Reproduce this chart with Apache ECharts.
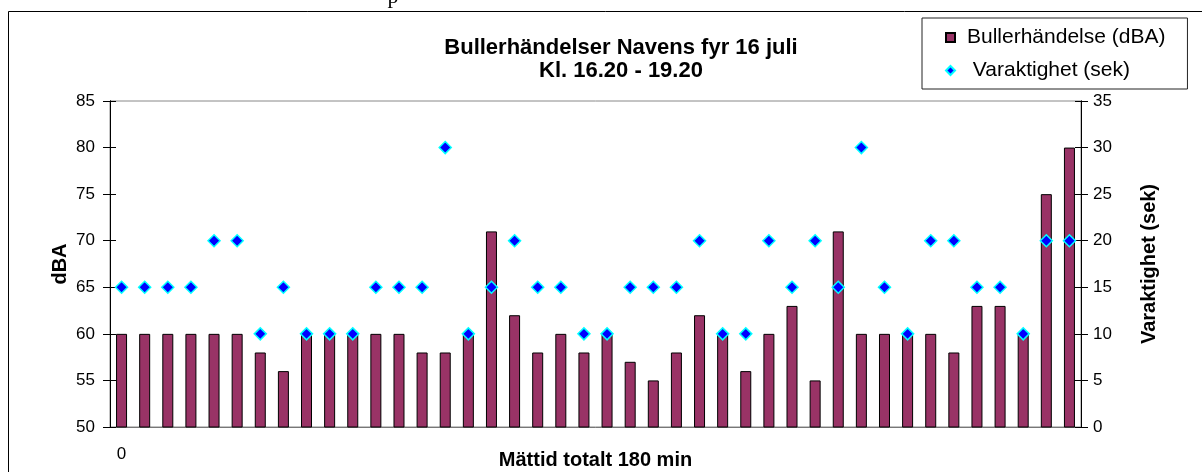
<!DOCTYPE html>
<html>
<head>
<meta charset="utf-8">
<title>Bullerhändelser Navens fyr 16 juli</title>
<script src="https://cdn.jsdelivr.net/npm/echarts@6/dist/echarts.min.js"></script>
<style>
html, body { margin: 0; padding: 0; background: #fff; }
#chart { width: 1202px; height: 472px; }
</style>
</head>
<body>
<div id="chart"></div>
<script>
// bullerhändelser, en stapel per händelse
const categories = ['1', '2', '3', '4', '5', '6', '7', '8', '9', '10', '11', '12', '13', '14',
  '15', '16', '17', '18', '19', '20', '21', '22', '23', '24', '25', '26', '27', '28',
  '29', '30', '31', '32', '33', '34', '35', '36', '37', '38', '39', '40', '41', '42']
const xTickLabels = ['0']
const dBA = [60, 60, 60, 60, 60, 60, 58, 56, 60, 60, 60, 60, 60, 58, 58, 60, 71, 62, 58, 60, 58,
  60, 57, 55, 58, 62, 60, 56, 60, 63, 55, 71, 60, 60, 60, 60, 58, 63, 63, 60, 75, 80]
const sek = [15, 15, 15, 15, 20, 20, 10, 15, 10, 10, 10, 15, 15, 15, 30, 10, 15, 20, 15, 15, 10,
  10, 15, 15, 15, 20, 10, 10, 20, 15, 20, 15, 30, 15, 10, 20, 20, 15, 15, 10, 20, 20]

const font = 'Liberation Sans, Arial, sans-serif'
const chart = echarts.init(document.getElementById('chart'))

// extra axes only for the inside half of the crossing ticks
const tickAxis = (pos, min, max) => ({
  type: 'value', position: pos, min: min, max: max, interval: 5,
  axisLine: { show: true, lineStyle: { color: '#000' } },
  axisTick: { show: true, inside: true, length: 6, lineStyle: { color: '#000' } },
  axisLabel: { show: false },
  splitLine: { show: false }
})

chart.setOption({
  animation: false,
  textStyle: { fontFamily: font },
  title: {
    text: 'Bullerhändelser Navens fyr 16 juli\nKl. 16.20 - 19.20',
    left: 616,
    textAlign: 'center',
    top: 31,
    textStyle: { fontSize: 22, fontWeight: 'bold', color: '#000', lineHeight: 23, fontFamily: font }
  },
  legend: {
    orient: 'vertical',
    left: 922,
    top: 18,
    padding: [9, 22, 8, 23],
    itemGap: 12,
    itemWidth: 9,
    itemHeight: 9,
    borderColor: '#222',
    borderWidth: 1,
    textStyle: { fontSize: 21, color: '#000', fontFamily: font, padding: [0, 0, 0, 7] },
    formatter: name => (name === 'Varaktighet (sek)' ? ' ' + name : name),
    data: [
      { name: 'Bullerhändelse (dBA)', icon: 'rect' },
      { name: 'Varaktighet (sek)', icon: 'diamond' }
    ]
  },
  grid: {
    left: 110, right: 121, top: 101, bottom: 45,
    outerBoundsMode: 'none',
    containLabel: false,
    show: true, borderColor: '#888', borderWidth: 1
  },
  xAxis: {
    type: 'category',
    data: categories,
    name: 'Mättid totalt 180 min',
    nameLocation: 'middle',
    nameGap: 23,
    nameMoveOverlap: false,
    nameTextStyle: { fontSize: 20, fontWeight: 'bold', color: '#000' },
    axisLine: { lineStyle: { color: '#777' } },
    axisTick: { show: false },
    axisLabel: {
      interval: 0,
      margin: 19,
      fontSize: 17,
      color: '#000',
      formatter: (v, i) => xTickLabels[i] || ''
    }
  },
  yAxis: [
    {
      type: 'value', min: 50, max: 85, interval: 5,
      name: 'dBA', nameLocation: 'middle', nameGap: 40, nameRotate: 90,
      nameMoveOverlap: false,
      nameTextStyle: { fontSize: 20, fontWeight: 'bold', color: '#000' },
      axisLine: { show: true, lineStyle: { color: '#000' } },
      axisTick: { show: true, length: 7, lineStyle: { color: '#000' } },
      axisLabel: { margin: 15, fontSize: 17, color: '#000' },
      splitLine: { show: false }
    },
    {
      type: 'value', min: 0, max: 35, interval: 5, position: 'right',
      name: 'Varaktighet (sek)', nameLocation: 'middle', nameGap: 58, nameRotate: 90,
      nameMoveOverlap: false,
      nameTextStyle: { fontSize: 20, fontWeight: 'bold', color: '#000' },
      axisLine: { show: true, lineStyle: { color: '#000' } },
      axisTick: { show: true, length: 7, lineStyle: { color: '#000' } },
      axisLabel: { margin: 12, fontSize: 17, color: '#000' },
      splitLine: { show: false }
    },
    tickAxis('left', 50, 85),
    tickAxis('right', 0, 35)
  ],
  series: [
    {
      name: 'Bullerhändelse (dBA)',
      type: 'bar',
      yAxisIndex: 0,
      barWidth: 11,
      data: dBA,
      itemStyle: { color: '#993366', borderColor: '#000', borderWidth: 1 }
    },
    {
      name: 'Varaktighet (sek)',
      type: 'scatter',
      yAxisIndex: 1,
      symbol: 'diamond',
      symbolSize: 12,
      data: sek,
      z: 5,
      itemStyle: { color: '#0000ff', borderColor: '#00ffff', borderWidth: 1.5, opacity: 1 }
    }
  ],
  graphic: [
    {
      type: 'rect',
      shape: { x: 8.5, y: 11.5, width: 1400, height: 700 },
      style: { fill: 'none', stroke: '#000', lineWidth: 1 },
      silent: true
    },
    {
      type: 'text',
      x: 393, y: 8,
      style: { text: 'p', font: '22px Liberation Serif', fill: '#000', align: 'center', verticalAlign: 'bottom' },
      silent: true
    }
  ]
})
</script>
</body>
</html>
